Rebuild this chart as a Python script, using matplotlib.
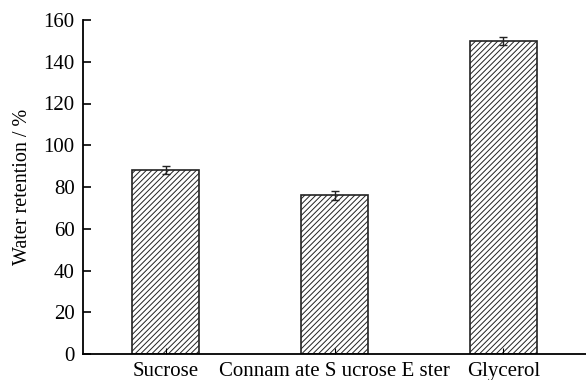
import matplotlib.pyplot as plt

plt.rcParams['font.family'] = ['Liberation Serif', 'DejaVu Serif']
plt.rcParams['hatch.linewidth'] = 0.7
plt.rcParams['hatch.color'] = '#333333'

samples = ["Sucrose", "Connam ate S ucrose E ster", "Glycerol"]
retention = [88, 76, 150]
errors = [2, 2, 2]

fig = plt.figure(figsize=(5.86, 3.80), dpi=100)
ax = fig.add_axes([83 / 586, 26 / 380, 1 - 83 / 586, 334 / 380])

x = range(len(samples))
ax.bar(x, retention, width=0.4, color="white", edgecolor="#222222",
       linewidth=1.2, hatch="//////")
ax.errorbar(x, retention, yerr=errors, fmt="none", ecolor="#222222",
            elinewidth=1.0, capsize=3, capthick=1.0)

ax.set_xlim(-0.49, 2.49)
ax.set_ylim(0, 160)
ax.set_yticks(range(0, 161, 20))
ax.set_xticks(list(x))
ax.set_xticklabels(samples)
ax.tick_params(axis="y", direction="in", length=6, width=1.2, labelsize=15, pad=6)
ax.tick_params(axis="x", direction="in", length=4, width=0.8, labelsize=15, pad=6)
ax.set_ylabel("Water retention / %", fontsize=14.5, labelpad=8)

for side in ["top", "right"]:
    ax.spines[side].set_visible(False)
for side in ["left", "bottom"]:
    ax.spines[side].set_linewidth(1.3)

fig.savefig("out.png", dpi=100)
